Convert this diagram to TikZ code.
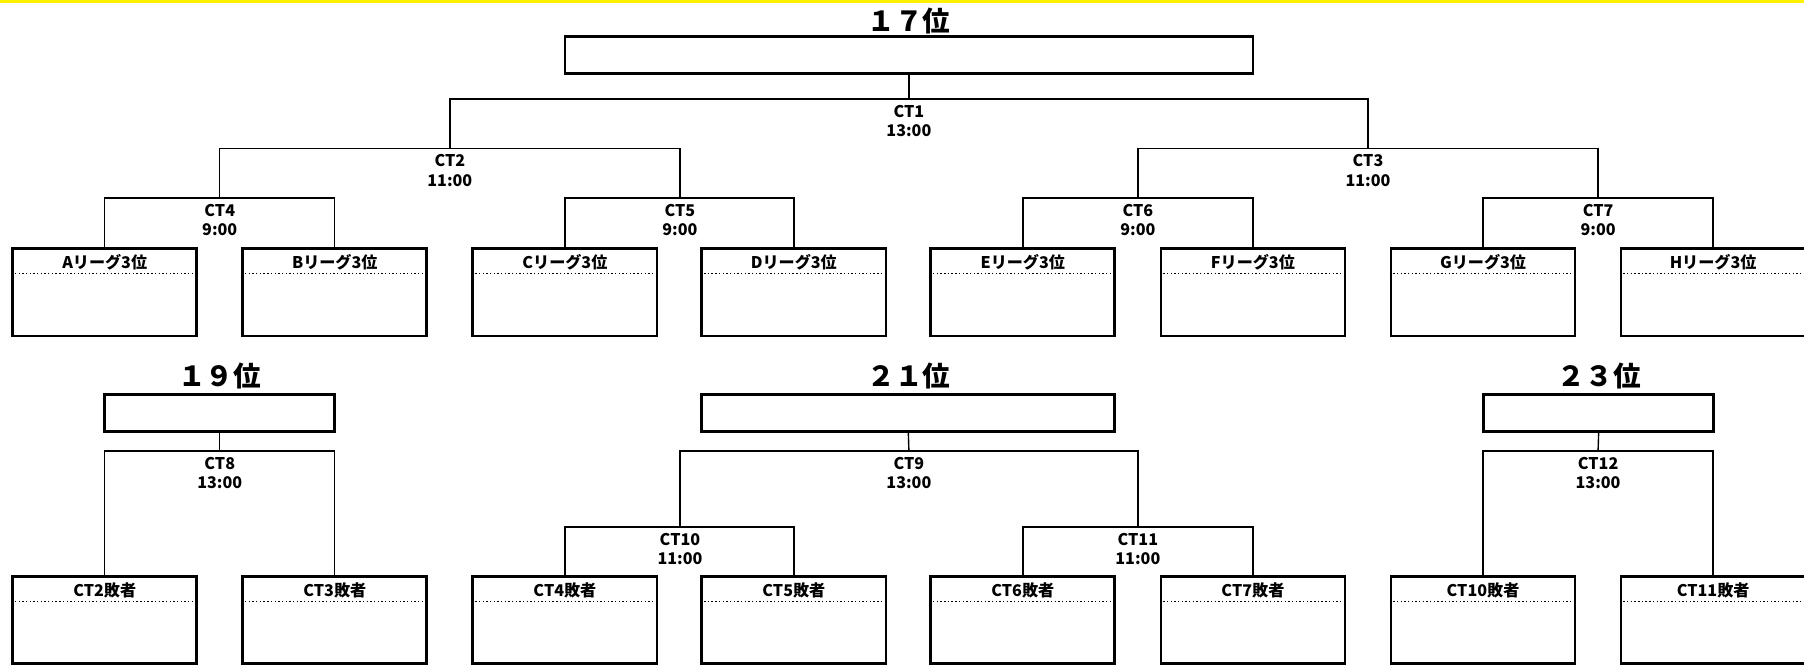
\documentclass[tikz,border=0pt]{standalone}
\usepackage{fontspec}
\usepackage{tikz}
\newfontfamily\jpfont{Noto Sans CJK JP}
\newfontfamily\rankfont{Noto Sans CJK JP}[RawFeature=+fwid]

\tikzset{
  cup/.style={draw,line width=1.2pt,minimum height=16pt,inner sep=0pt},
  team/.style={draw,line width=1.2pt,minimum width=80pt,minimum height=38pt,inner sep=0pt},
  rank/.style={font=\rankfont\bfseries\fontsize{12pt}{12pt}\selectfont,inner sep=0pt},
  slot/.style={font=\jpfont\bfseries\fontsize{7pt}{8.5pt}\selectfont,inner sep=0pt,anchor=north},
  match/.style={font=\jpfont\bfseries\fontsize{7pt}{8.5pt}\selectfont,inner sep=0pt,anchor=north,align=center},
  link/.style={line width=0.6pt},
  sep/.style={line width=0.6pt,densely dotted}
}

\begin{document}
\begin{tikzpicture}[x=0.5pt,y=-0.5pt]
  \useasboundingbox (0,0) rectangle (1568,578);
  % Top rule
  \draw[yellow,line width=1.2pt] (0,1.2) -- (1568,1.2);

  % 17th place bracket
  \node[rank] (t17) at (790,18) {17位};
  \node[cup,minimum width=299pt] (p17) at (790,48) {};
  \coordinate (j1) at (790,86);
  \coordinate (j2) at (391,129);
  \coordinate (j3) at (1189,129);
  \coordinate (j4) at (191,172);
  \coordinate (j5) at (591,172);
  \coordinate (j6) at (989,172);
  \coordinate (j7) at (1389,172);

  % League 3rd places
  \node[team] (a) at (91,254) {};
  \node[team] (b) at (291,254) {};
  \node[team] (c) at (491,254) {};
  \node[team] (d) at (690,254) {};
  \node[team] (e) at (889,254) {};
  \node[team] (f) at (1089,254) {};
  \node[team] (g) at (1289,254) {};
  \node[team] (h) at (1489,254) {};
  \node[slot] (ta) at ([yshift=-3pt]a.north) {Aリーグ3位};
  \node[slot] (tb) at ([yshift=-3pt]b.north) {Bリーグ3位};
  \node[slot] (tc) at ([yshift=-3pt]c.north) {Cリーグ3位};
  \node[slot] (td) at ([yshift=-3pt]d.north) {Dリーグ3位};
  \node[slot] (te) at ([yshift=-3pt]e.north) {Eリーグ3位};
  \node[slot] (tf) at ([yshift=-3pt]f.north) {Fリーグ3位};
  \node[slot] (tg) at ([yshift=-3pt]g.north) {Gリーグ3位};
  \node[slot] (th) at ([yshift=-3pt]h.north) {Hリーグ3位};
  \foreach \n in {a,b,c,d,e,f,g,h}
    \draw[sep] ([yshift=-11.5pt]\n.north west) -- ([yshift=-11.5pt]\n.north east);

  % Draw bracket lines
  \draw[link] (a.north) |- (j4) -| (b.north);
  \draw[link] (c.north) |- (j5) -| (d.north);
  \draw[link] (e.north) |- (j6) -| (f.north);
  \draw[link] (g.north) |- (j7) -| (h.north);
  \draw[link] (j4) |- (j2) -| (j5);
  \draw[link] (j6) |- (j3) -| (j7);
  \draw[link] (j2) |- (j1) -| (j3);
  \draw[link] (j1) -- (p17.south);

  % Match labels
  \node[match] (m1) at ([yshift=-2.5pt]j1) {CT1\\13:00};
  \node[match] (m2) at ([yshift=-2.5pt]j2) {CT2\\11:00};
  \node[match] (m3) at ([yshift=-2.5pt]j3) {CT3\\11:00};
  \node[match] (m4) at ([yshift=-2.5pt]j4) {CT4\\9:00};
  \node[match] (m5) at ([yshift=-2.5pt]j5) {CT5\\9:00};
  \node[match] (m6) at ([yshift=-2.5pt]j6) {CT6\\9:00};
  \node[match] (m7) at ([yshift=-2.5pt]j7) {CT7\\9:00};

  % 19th, 21st, 23rd place brackets
  \node[rank] (t19) at (191,327) {19位};
  \node[rank] (t21) at (790,327) {21位};
  \node[rank] (t23) at (1390,327) {23位};
  \node[cup,minimum width=100pt] (p19) at (191,359) {};
  \node[cup,minimum width=179.5pt] (p21) at (789.5,359) {};
  \node[cup,minimum width=100pt] (p23) at (1389.5,359) {};
  \coordinate (j8) at (191,392);
  \coordinate (j9) at (790,392);
  \coordinate (j10) at (591,458);
  \coordinate (j11) at (989,458);
  \coordinate (j12) at (1389,392);

  % Losers
  \node[team] (l2) at (91,539) {};
  \node[team] (l3) at (291,539) {};
  \node[team] (l4) at (491,539) {};
  \node[team] (l5) at (690,539) {};
  \node[team] (l6) at (889,539) {};
  \node[team] (l7) at (1089,539) {};
  \node[team] (l10) at (1289,539) {};
  \node[team] (l11) at (1489,539) {};
  \node[slot] (tl2) at ([yshift=-3pt]l2.north) {CT2敗者};
  \node[slot] (tl3) at ([yshift=-3pt]l3.north) {CT3敗者};
  \node[slot] (tl4) at ([yshift=-3pt]l4.north) {CT4敗者};
  \node[slot] (tl5) at ([yshift=-3pt]l5.north) {CT5敗者};
  \node[slot] (tl6) at ([yshift=-3pt]l6.north) {CT6敗者};
  \node[slot] (tl7) at ([yshift=-3pt]l7.north) {CT7敗者};
  \node[slot] (tl10) at ([yshift=-3pt]l10.north) {CT10敗者};
  \node[slot] (tl11) at ([yshift=-3pt]l11.north) {CT11敗者};
  \foreach \n in {l2,l3,l4,l5,l6,l7,l10,l11}
    \draw[sep] ([yshift=-11.5pt]\n.north west) -- ([yshift=-11.5pt]\n.north east);

  \draw[link] (l2.north) |- (j8) -| (l3.north);
  \draw[link] (j8) -- (p19.south);
  \draw[link] (l4.north) |- (j10) -| (l5.north);
  \draw[link] (l6.north) |- (j11) -| (l7.north);
  \draw[link] (j10) |- (j9) -| (j11);
  \draw[link] (j9) -- (p21.south);
  \draw[link] (l10.north) |- (j12) -| (l11.north);
  \draw[link] (j12) -- (p23.south);

  \node[match] (m8) at ([yshift=-2.5pt]j8) {CT8\\13:00};
  \node[match] (m9) at ([yshift=-2.5pt]j9) {CT9\\13:00};
  \node[match] (m10) at ([yshift=-2.5pt]j10) {CT10\\11:00};
  \node[match] (m11) at ([yshift=-2.5pt]j11) {CT11\\11:00};
  \node[match] (m12) at ([yshift=-2.5pt]j12) {CT12\\13:00};
\end{tikzpicture}
\end{document}
